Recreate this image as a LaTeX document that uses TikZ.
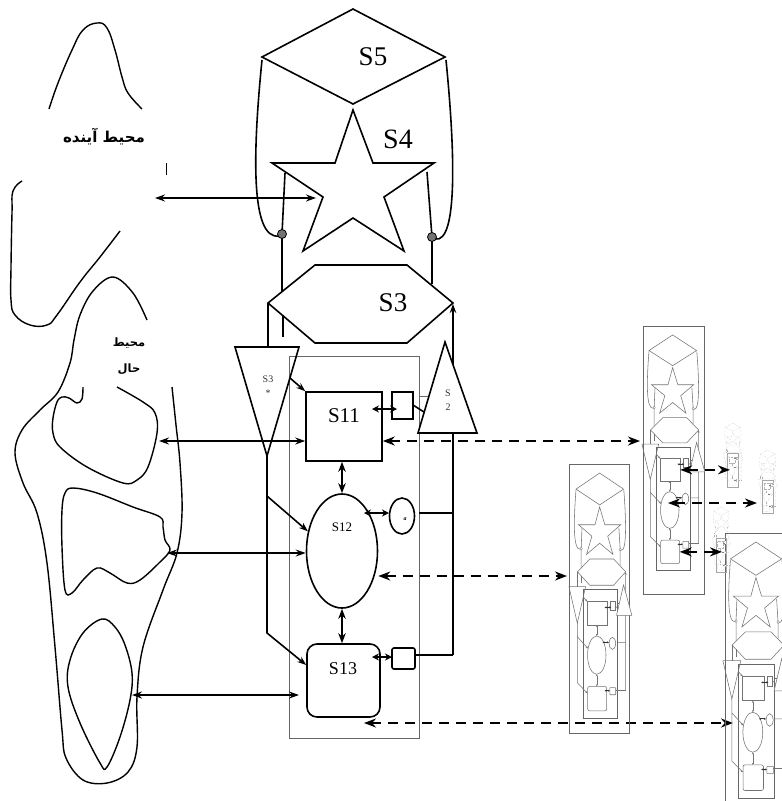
\documentclass[tikz,border=0pt]{standalone}
\usepackage{fontspec}
\setmainfont{Liberation Serif}
\newfontfamily\arabicfont[Script=Arabic]{DejaVu Sans}
\TeXXeTstate=1
\usetikzlibrary{arrows.meta,shapes.geometric}

\tikzset{
 sline/.style={line width=1.6pt,draw=black},
 thinr/.style={line width=0.9pt,draw=black!60},
 dotst/.style={draw=black,line width=0.8pt,fill=black!55},
 iarr/.style={sline,-{Stealth[length=9pt,width=6.5pt]}},
 idarr/.style={sline,line width=2pt,{Stealth[length=7pt,width=7pt]}-{Stealth[length=7pt,width=7pt]}},
 vdarr/.style={sline,line width=1.8pt,{Stealth[length=10pt,width=7.5pt]}-{Stealth[length=10pt,width=7.5pt]}},
 boxn/.style={sline,fill=white,inner sep=0pt,transform shape},
 elln/.style={boxn,ellipse},
 r13/.style={rounded corners=10pt},
 r3/.style={rounded corners=2pt},
 envline/.style={line width=1.4pt,draw=black},
 envarr/.style={line width=1.6pt,{Stealth[length=10pt,width=7pt]}-{Stealth[length=10pt,width=7pt]}},
 dasharr/.style={line width=1.9pt,dash pattern=on 10pt off 7pt,{Stealth[length=12pt,width=9pt]}-{Stealth[length=12pt,width=9pt]}},
 copyst/.style={
   sline/.style={line width=0.55pt,draw=black!55},
   thinr/.style={line width=0.6pt,draw=black!60},
   dotst/.style={draw=black!55,line width=0.3pt,fill=white},
   iarr/.style={sline,-{Stealth[length=2.5pt,width=2pt]}},
   idarr/.style={sline,line width=0.9pt,draw=black!80,{Stealth[length=2pt,width=2pt]}-{Stealth[length=2pt,width=2pt]}},
   vdarr/.style={sline,{Stealth[length=2pt,width=2pt]}-{Stealth[length=2pt,width=2pt]}},
   r13/.style={rounded corners=2pt},
   r3/.style={rounded corners=0.5pt}},
 tinyst/.style={
   sline/.style={line width=0.35pt,draw=black!30,densely dotted},
   thinr/.style={line width=0.35pt,draw=black!35},
   dotst/.style={draw=black!30,line width=0.2pt,fill=white},
   iarr/.style={sline},
   idarr/.style={line width=0.5pt,draw=black!50},
   vdarr/.style={sline},
   r13/.style={rounded corners=0.5pt},
   r3/.style={}},
 lab/.style={inner sep=0pt},
}

\newcommand\drawstructure[1]{%
  \draw[sline] (353,9) -- (445,57) -- (353,104) -- (262,57) -- cycle;
  \draw[sline] (353,110) -- (373,163) -- (434,163) -- (384,197) -- (404,251) -- (353,218) -- (303,251) -- (323,197) -- (272,163) -- (335,163) -- cycle;
  \coordinate (#1stl) at (316,198);
  \draw[sline] (262,60) .. controls (253,150) and (250,240) .. (279,236);
  \draw[sline] (446,60) .. controls (455,150) and (458,244) .. (435,239);
  \draw[sline] (285,173) -- (282,234) -- (282,291);
  \draw[sline] (283,315) -- (283,337);
  \draw[sline] (427,172) -- (432,237) -- (432,284);
  \filldraw[dotst] (282,234) circle[radius=4.5pt];
  \filldraw[dotst] (432,237) circle[radius=4.5pt];
  \draw[sline] (268,303) -- (315,265) -- (407,265) -- (453,303) -- (407,343) -- (315,343) -- cycle;
  \draw[sline] (268,303) -- (268,347);
  \draw[thinr] (289,356) rectangle (419,738);
  \coordinate (#1r2) at (453,513);
  \coordinate (#1r3) at (453,655);
  \draw[iarr] (#1r3) -- (453,304);
  \filldraw[sline,fill=white] (445,342) -- (477,433) -- (418,433) -- cycle;
  \draw[sline] (235,347) -- (299,347) -- (267,456) -- cycle;
  \node[boxn,minimum width=76,minimum height=69] (#1s11) at (344,426.5) {};
  \node[boxn,minimum width=21,minimum height=27] (#1b1) at (402.5,405.5) {};
  \node[elln,minimum width=71,minimum height=114] (#1s12) at (342,551) {};
  \node[elln,minimum width=25,minimum height=36] (#1sm) at (402,516) {};
  \node[boxn,r13,minimum width=73,minimum height=73] (#1s13) at (343.5,680.5) {};
  \node[boxn,r3,minimum width=23,minimum height=21] (#1b3) at (403.5,658.5) {};
  \draw[sline] (#1r2) -- (419,513);
  \draw[thinr] (419,396) -- (428,396);
  \draw[sline] (#1b1.east) -- (424,412);
  \draw[sline] (#1r3) -- (#1b3.east |- #1r3);
  \coordinate (#1q13) at (0,665);
  \coordinate (#1tsa) at (290,378);
  \draw[iarr] (267,456) -- (267,633) -- (#1s13.west |- #1q13);
  \draw[iarr] (267,496) -- (#1s12.150);
  \draw[iarr] (#1tsa) -- (#1s11.north west);
  \coordinate (#1a1l) at (372,409);
  \coordinate (#1a1r) at (397,409);
  \coordinate (#1a2l) at (364,513);
  \coordinate (#1a2r) at (389,513);
  \coordinate (#1a3l) at (372,657);
  \coordinate (#1a3r) at (392,657);
  \draw[idarr] (#1a1l) -- (#1a1r);
  \draw[idarr] (#1a2l) -- (#1a2r);
  \draw[idarr] (#1a3l) -- (#1a3r);
  \draw[vdarr] (#1s11.south -| #1s12.north) -- (#1s12.north);
  \draw[vdarr] (#1s12.south) -- (#1s13.north -| #1s12.south);
}

\begin{document}
\begin{tikzpicture}[x=1pt,y=-1pt]
\useasboundingbox (0,0) rectangle (782,801);
\clip (0,0) rectangle (782,801);

% environments (blobs)
\draw[envline] plot[smooth,tension=0.7] coordinates {(49,109) (58,83) (72,50) (83,30) (97,23) (107,28) (115,50) (122,77) (128,93) (142,109)};
\draw[envline] plot[smooth,tension=0.7] coordinates {(22,181) (13,191) (12,213) (11,267) (11,300) (15,315) (30,325) (47,325) (57,315) (80,282) (100,257) (120,231)};
\draw[envline] plot[smooth,tension=0.6] coordinates {(147,320) (133,293) (113,277) (93,291) (80,315) (74,340) (70,363) (58,392) (40,410) (22,430) (15,453) (23,483) (37,513) (47,563) (55,647) (62,730) (66,758) (83,780) (107,783) (128,772) (137,747) (137,697) (143,647) (163,590) (177,553) (182,513) (180,463) (176,425) (172,387)};
\draw[envline] plot[smooth,tension=0.6] coordinates {(83,387) (82,399) (77,403) (69,398) (62,397) (57,402) (53,418) (53,433) (60,447) (87,467) (123,483) (137,480) (148,467) (157,433) (155,413) (143,402) (117,387)};
\draw[envline] plot[smooth cycle,tension=0.6] coordinates {(65,493) (73,488) (97,493) (133,507) (160,517) (163,527) (165,540) (170,550) (160,562) (140,580) (127,583) (110,573) (97,568) (83,580) (72,593) (65,590) (62,547) (62,510)};
\draw[envline] plot[smooth cycle,tension=0.6] coordinates {(102,619) (115,627) (125,645) (132,673) (130,700) (120,737) (107,767) (100,763) (80,723) (68,687) (70,660) (83,633)};
\draw[line width=0.8pt] (166,163) -- (166,175);

\node[lab,font=\arabicfont\bfseries\fontsize{15}{15}\selectfont] (fut) at (104,137) {\beginR محیط آینده\endR};
\node[lab,font=\arabicfont\bfseries\fontsize{11.5}{11.5}\selectfont] (cur1) at (129,343) {\beginR محیط\endR};
\node[lab,font=\arabicfont\bfseries\fontsize{11.5}{11.5}\selectfont] (cur2) at (129,369) {\beginR حال\endR};

% main structure
\drawstructure{m}
\node[lab,font=\fontsize{27}{27}\selectfont] (l5) at (373,57) {S5};
\node[lab,font=\fontsize{28}{28}\selectfont] (l4) at (398,139) {S4};
\node[lab,font=\fontsize{27}{27}\selectfont] (l3) at (393,303) {S3};
\node[lab,font=\fontsize{21}{21}\selectfont] (l11) at (344,416) {S11};
\node[lab,font=\fontsize{13}{13}\selectfont] (l12) at (342,527) {S12};
\node[lab,font=\fontsize{18}{18}\selectfont] (l13) at (343,669) {S13};
\node[lab,font=\fontsize{10}{10}\selectfont,text=black!80] (l3s) at (268,379) {S3};
\node[lab,font=\fontsize{10}{10}\selectfont,text=black!80] (l3st) at (268,393) {*};
\node[lab,font=\fontsize{10}{10}\selectfont,text=black!80] (l2a) at (448,393) {S};
\node[lab,font=\fontsize{10}{10}\selectfont,text=black!80] (l2b) at (448,407) {2};
\node[lab,font=\bfseries\itshape\fontsize{6}{6}\selectfont] (lsm) at (405,519) {a};

% environment connectors
\coordinate (f1) at (155,198);
\coordinate (e1) at (159,441);
\coordinate (e2) at (167,553);
\coordinate (e3) at (132,695);
\coordinate (q3) at (299,695);
\draw[envarr] (f1) -- (mstl);
\draw[envarr] (e1) -- (ms11.west |- e1);
\draw[envarr] (e2) -- (ms12.west |- e2);
\draw[envarr] (e3) -- (q3);

% copies
\coordinate (cB) at (640,441);
\coordinate (cA) at (567,576);
\coordinate (cC) at (733,723);
\coordinate (d3l) at (364,723);
\draw[dasharr] (ms11.east |- cB) -- (cB);
\draw[dasharr] (ms12.east |- cA) -- (cA);
\draw[dasharr] (d3l) -- (cC);

\draw[line width=0.9pt,draw=black!60] (569,464) rectangle (629,733);
\draw[line width=0.9pt,draw=black!60] (643,326) rectangle (704,594);
\draw[line width=0.9pt,draw=black!60] (800,533) -- (725,533) -- (725,820);

\begin{scope}[shift={(583,473)},xscale=0.26,yscale=0.336,shift={(-289,-9)},copyst]
 \drawstructure{A}
\end{scope}
\begin{scope}[shift={(656,335)},xscale=0.26,yscale=0.323,shift={(-289,-9)},copyst]
 \drawstructure{B}
\end{scope}
\begin{scope}[shift={(738,542)},xscale=0.28,yscale=0.351,shift={(-289,-9)},copyst]
 \drawstructure{C}
\end{scope}

\begin{scope}[shift={(723,423)},xscale=0.083,yscale=0.088,shift={(-235,-9)},tinyst]
 \drawstructure{T}
\end{scope}
\begin{scope}[shift={(758,450)},xscale=0.08,yscale=0.087,shift={(-235,-9)},tinyst]
 \drawstructure{U}
\end{scope}
\begin{scope}[shift={(712,507)},xscale=0.078,yscale=0.09,shift={(-235,-9)},tinyst]
 \drawstructure{V}
\end{scope}

\coordinate (t1) at (730,472);
\coordinate (t2l) at (668,503);
\coordinate (t2) at (757,503);
\coordinate (t3) at (722,555);
\draw[dasharr] (Bs11.east) -- (t1 |- Bs11.east);
\draw[dasharr] (t2l) -- (t2);
\draw[dasharr] (Bs13.east) -- (t3 |- Bs13.east);
\end{tikzpicture}
\end{document}
